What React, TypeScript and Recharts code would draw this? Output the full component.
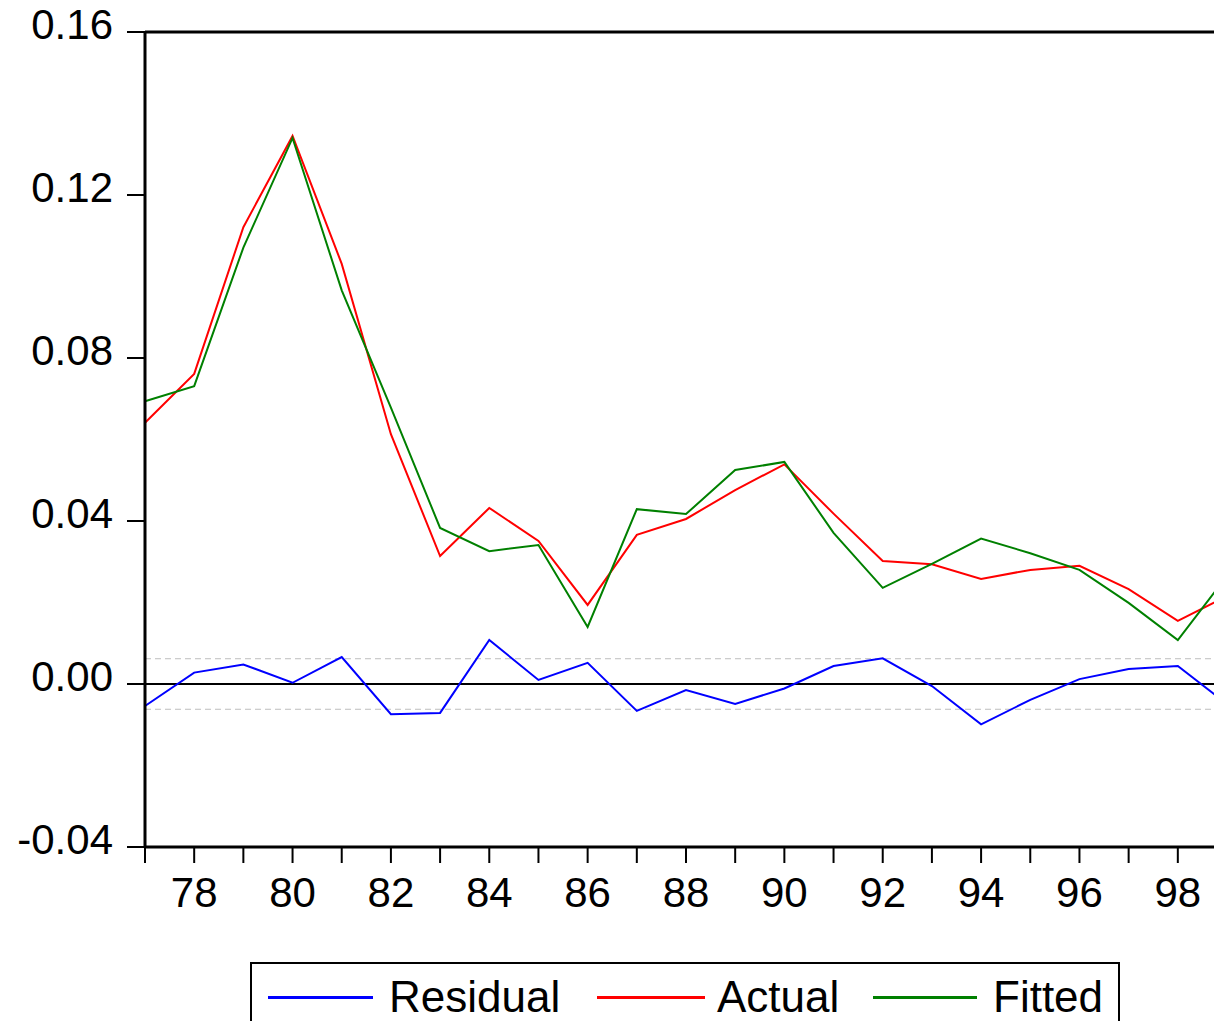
import { LineChart, Line, XAxis, YAxis, ReferenceLine, Legend } from 'recharts';

const years = [77, 78, 79, 80, 81, 82, 83, 84, 85, 86, 87, 88, 89, 90, 91, 92, 93, 94, 95, 96, 97, 98, 99];
const actual = [0.0641, 0.0761, 0.1121, 0.1345, 0.1031, 0.0613, 0.0314, 0.0432, 0.0351, 0.0194, 0.0366, 0.0405, 0.0476, 0.0539, 0.0418, 0.0302, 0.0294, 0.0258, 0.028, 0.029, 0.0233, 0.0155, 0.0216];
const fitted = [0.0694, 0.0731, 0.1071, 0.134, 0.0966, 0.0678, 0.0383, 0.0326, 0.0341, 0.014, 0.0429, 0.0417, 0.0525, 0.0545, 0.0371, 0.0236, 0.0295, 0.0357, 0.0321, 0.028, 0.0199, 0.0108, 0.0265];
const residual = [-0.0054, 0.0028, 0.0048, 0.0003, 0.0066, -0.0074, -0.0071, 0.0108, 0.001, 0.0052, -0.0066, -0.0015, -0.0049, -0.0011, 0.0044, 0.0063, -0.0005, -0.0099, -0.0039, 0.0012, 0.0037, 0.0044, -0.0049];
const yTicks = [-0.04, 0, 0.04, 0.08, 0.12, 0.16];
const residualSE = 0.0062;

const data = years.map((year, i) => ({
  year,
  Residual: residual[i],
  Actual: actual[i],
  Fitted: fitted[i],
}));

const FONT = '"Liberation Sans", Arial, sans-serif';

// legend entries with their offsets inside the box
const legendItems = [
  { name: 'Residual', color: '#0000FF', lineLeft: 16, lineWidth: 105, textLeft: 137 },
  { name: 'Actual', color: '#FF0000', lineLeft: 345, lineWidth: 108, textLeft: 465 },
  { name: 'Fitted', color: '#008000', lineLeft: 621, lineWidth: 104, textLeft: 741 },
];

const YTick = (props: any) => {
  const { x, y, payload } = props;
  return (
    <text x={x} y={y + 7} textAnchor="end" fontSize={42} fontFamily={FONT} fill="#000">
      {payload.value.toFixed(2)}
    </text>
  );
};

const XTick = (props: any) => {
  const { x, y, payload } = props;
  if (payload.value % 2 !== 0) return null;
  return (
    <text x={x} y={y + 42} textAnchor="middle" fontSize={42} fontFamily={FONT} fill="#000">
      {String(payload.value)}
    </text>
  );
};

const LegendBox = () => (
  <div
    style={{
      position: 'relative',
      width: 870,
      height: 80,
      border: '2px solid #000',
      background: '#fff',
      fontFamily: FONT,
      fontSize: 44,
      lineHeight: '44px',
      boxSizing: 'border-box',
    }}
  >
    {legendItems.map((item) => (
      <div key={item.name}>
        <div style={{ position: 'absolute', left: item.lineLeft, top: 32, width: item.lineWidth, height: 3, background: item.color }} />
        <span style={{ position: 'absolute', left: item.textLeft, top: 11, whiteSpace: 'nowrap' }}>{item.name}</span>
      </div>
    ))}
  </div>
);

export default function App() {
  return (
    <div style={{ position: 'fixed', left: 0, top: 0, width: 1214, height: 1021, overflow: 'hidden', background: '#fff' }}>
      <LineChart
        width={1300}
        height={1021}
        data={data}
        margin={{ top: 32, right: 73, left: 0, bottom: 74 }}
      >
        <XAxis
          dataKey="year"
          type="number"
          domain={[77, 99]}
          ticks={years}
          interval={0}
          height={100}
          tickSize={16}
          tick={<XTick />}
          axisLine={{ stroke: '#000', strokeWidth: 3 }}
          tickLine={{ stroke: '#000', strokeWidth: 2 }}
        />
        <YAxis
          type="number"
          domain={[-0.04, 0.16]}
          ticks={yTicks}
          width={145}
          tickSize={18}
          tickMargin={14}
          tick={<YTick />}
          axisLine={{ stroke: '#000', strokeWidth: 3 }}
          tickLine={{ stroke: '#000', strokeWidth: 2 }}
        />
        <ReferenceLine y={0.16} stroke="#000" strokeWidth={3} />
        <ReferenceLine y={residualSE} stroke="#BDBDBD" strokeWidth={1} strokeDasharray="6 4" />
        <ReferenceLine y={-residualSE} stroke="#BDBDBD" strokeWidth={1} strokeDasharray="6 4" />
        <ReferenceLine y={0} stroke="#000" strokeWidth={2} />
        <Legend
          layout="horizontal"
          verticalAlign="middle"
          align="center"
          content={<LegendBox />}
          wrapperStyle={{ top: 962, left: 250, width: 870, height: 80 }}
        />
        <Line dataKey="Residual" stroke="#0000FF" strokeWidth={2} dot={false} isAnimationActive={false} />
        <Line dataKey="Actual" stroke="#FF0000" strokeWidth={2} dot={false} isAnimationActive={false} />
        <Line dataKey="Fitted" stroke="#008000" strokeWidth={2} dot={false} isAnimationActive={false} />
      </LineChart>
    </div>
  );
}
